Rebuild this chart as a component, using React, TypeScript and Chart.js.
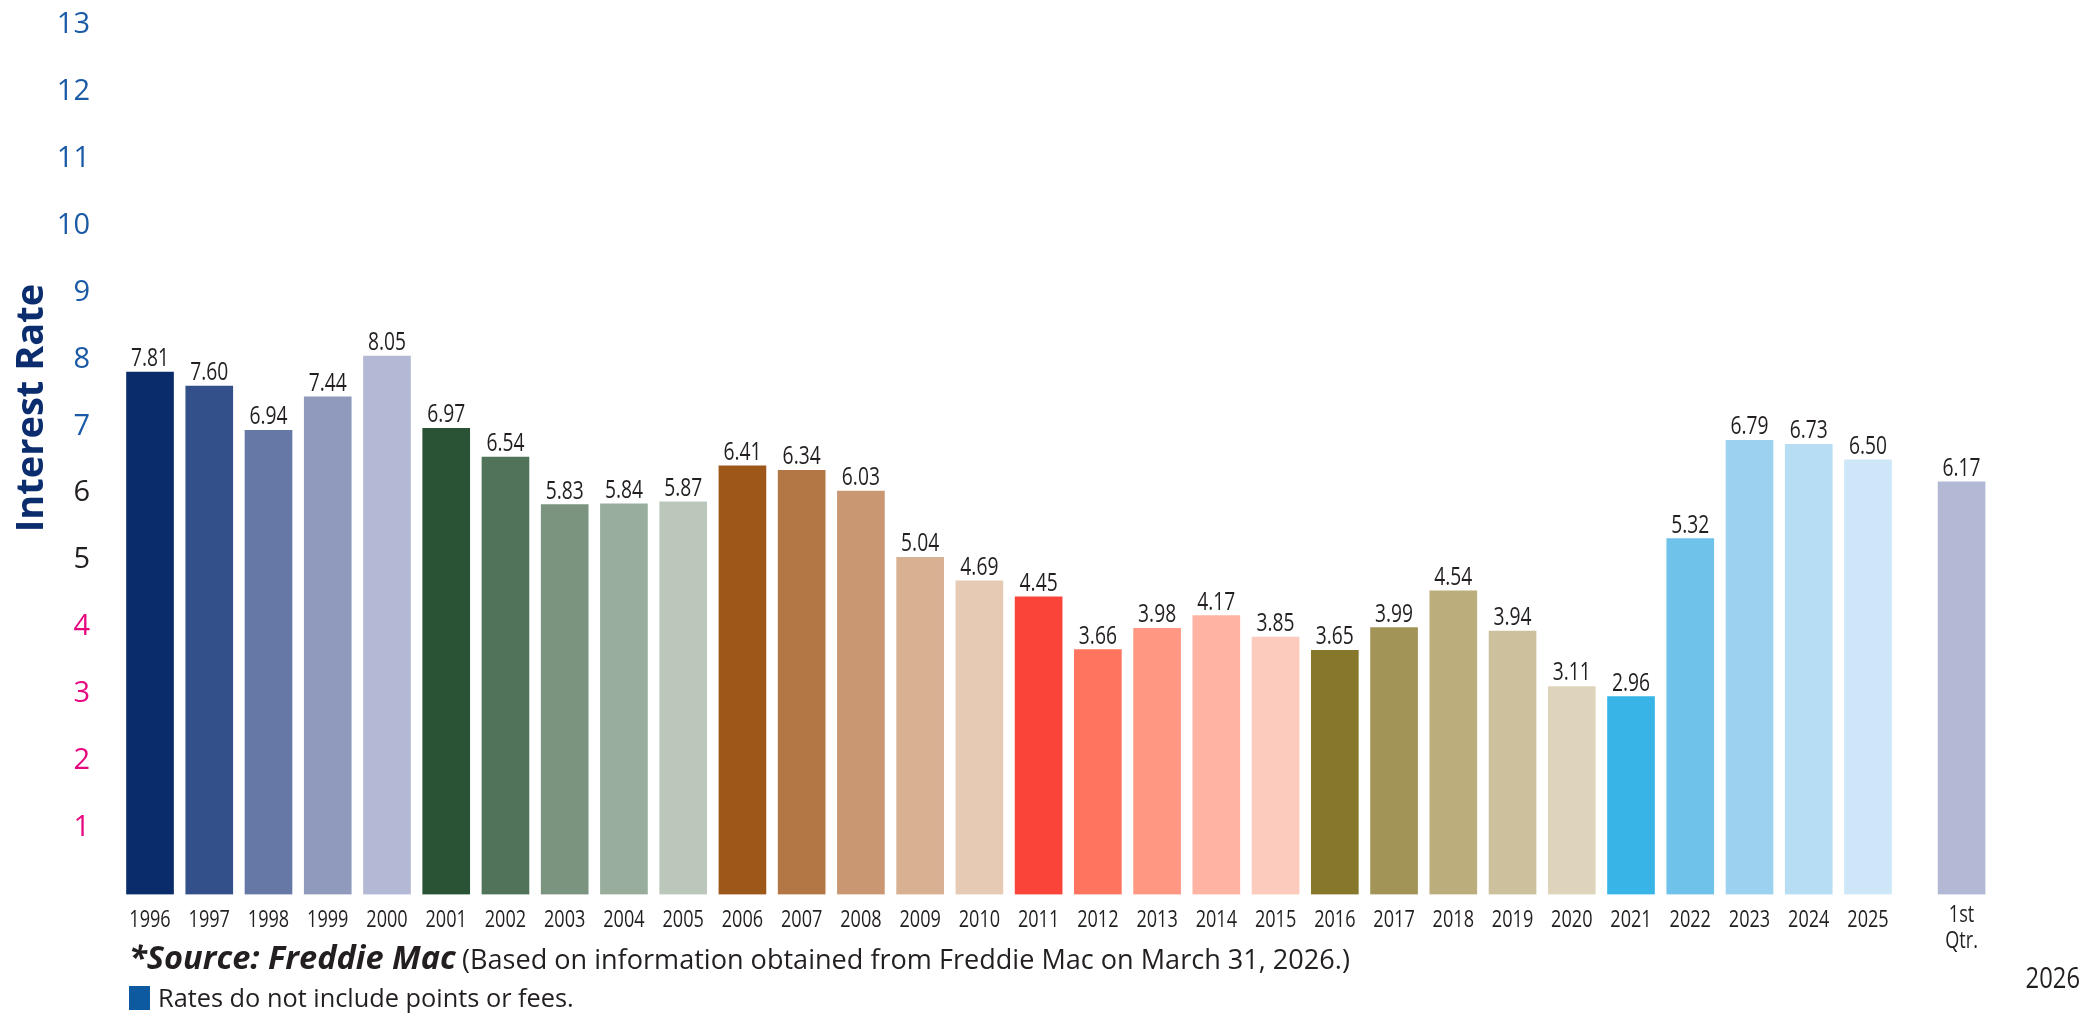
import React, { useEffect, useRef } from 'react';
import { Chart, registerables } from 'chart.js';

Chart.register(...registerables);

// ---------- data ----------
const categories = [
  '1996', '1997', '1998', '1999', '2000',
  '2001', '2002', '2003', '2004', '2005',
  '2006', '2007', '2008', '2009', '2010',
  '2011', '2012', '2013', '2014', '2015',
  '2016', '2017', '2018', '2019', '2020',
  '2021', '2022', '2023', '2024', '2025',
  '1st Qtr.',
];

const rates = [
  7.81, 7.60, 6.94, 7.44, 8.05,
  6.97, 6.54, 5.83, 5.84, 5.87,
  6.41, 6.34, 6.03, 5.04, 4.69,
  4.45, 3.66, 3.98, 4.17, 3.85,
  3.65, 3.99, 4.54, 3.94, 3.11,
  2.96, 5.32, 6.79, 6.73, 6.50,
  6.17,
];

const barColors = [
  '#0b2c6a', '#33508a', '#6679a6', '#8f9abc', '#b3b9d5',
  '#2a5234', '#50735a', '#7b947f', '#98ad9b', '#bbc7ba',
  '#9c5719', '#b27745', '#c99873', '#d8b092', '#e6cab4',
  '#fa4339', '#ff745e', '#ff9782', '#ffb3a2', '#fdcbbd',
  '#86772b', '#a29357', '#bcad7c', '#cdc09d', '#ddd4bb',
  '#38b5e6', '#6fc3ea', '#9dd1f0', '#b6ddf4', '#cde7f8',
  '#b3b8d4',
];

const yTickBlue = [7, 8, 9, 10, 11, 12, 13];
const yTickBlack = [5, 6];
const yTickPink = [1, 2, 3, 4];

const yTitle = 'Interest Rate';
const quarterYear = '2026';
const sourceBold = '*Source: Freddie Mac';
const sourceRest = '(Based on information obtained from Freddie Mac on March 31, 2026.)';
const noteText = 'Rates do not include points or fees.';

// ---------- layout / style ----------
const W = 2084;
const H = 1014;
const PITCH = 59.24;
const X_MIN = -0.5;
const X_MAX = 31.5;
const PLOT_LEFT = 120.4;
const PLOT_TOP = 25;
const PLOT_BOTTOM = 894.5;
const QUARTER_GAP = 0.58;
const FONT = "'Open Sans', 'Noto Sans', sans-serif";
const LABEL_SIZE = 23.5;
const LABEL_SX = 0.77;
const VALUE_SIZE = 25;
const VALUE_SX = 0.77;
const TEXT_COLOR = '#231f20';

const positions = categories.map((_, i) => (i < categories.length - 1 ? i : i + QUARTER_GAP));

function tickColor(v: number): string {
  if (yTickBlue.includes(v)) return '#1b5aa6';
  if (yTickBlack.includes(v)) return '#231f20';
  if (yTickPink.includes(v)) return '#e6087f';
  return '#231f20';
}

function drawCondensed(
  ctx: CanvasRenderingContext2D,
  text: string,
  x: number,
  y: number,
  font: string,
  sx: number,
  color: string,
  align: CanvasTextAlign = 'center'
) {
  ctx.save();
  ctx.translate(x, y);
  ctx.scale(sx, 1);
  ctx.font = font;
  ctx.fillStyle = color;
  ctx.textAlign = align;
  ctx.textBaseline = 'alphabetic';
  ctx.fillText(text, 0, 0);
  ctx.restore();
}

function fitSize(ctx: CanvasRenderingContext2D, text: string, style: string, target: number): number {
  const base = 24;
  ctx.font = `${style} ${base}px ${FONT}`;
  return (base * target) / ctx.measureText(text).width;
}

const textPlugin = {
  id: 'textPlugin',
  afterDatasetsDraw(chart: any) {
    const ctx: CanvasRenderingContext2D = chart.ctx;
    const meta = chart.getDatasetMeta(0);
    const labelFont = `${LABEL_SIZE}px ${FONT}`;
    const valueFont = `${VALUE_SIZE}px ${FONT}`;
    meta.data.forEach((bar: any, i: number) => {
      drawCondensed(ctx, rates[i].toFixed(2), bar.x, bar.y - 6, valueFont, VALUE_SX, TEXT_COLOR);
      const lines = categories[i].split(' ');
      if (lines.length === 1) {
        drawCondensed(ctx, lines[0], bar.x, 927, labelFont, LABEL_SX, TEXT_COLOR);
      } else {
        lines.forEach((ln, k) => {
          drawCondensed(ctx, ln, bar.x, 922 + k * 26, labelFont, LABEL_SX, TEXT_COLOR);
        });
      }
    });

    drawCondensed(ctx, quarterYear, 2080, 988, `29px ${FONT}`, 0.82, TEXT_COLOR, 'right');

    // y title
    ctx.save();
    ctx.translate(42.5, 408);
    ctx.rotate(-Math.PI / 2);
    ctx.font = `bold 38px ${FONT}`;
    ctx.fillStyle = '#0b2d6e';
    ctx.textAlign = 'center';
    ctx.textBaseline = 'alphabetic';
    ctx.fillText(yTitle, 0, 0);
    ctx.restore();

    // footnote line 1
    ctx.save();
    ctx.fillStyle = TEXT_COLOR;
    ctx.textBaseline = 'alphabetic';
    ctx.textAlign = 'left';
    const fb = fitSize(ctx, sourceBold, 'italic bold', 327);
    ctx.font = `italic bold ${fb}px ${FONT}`;
    ctx.fillText(sourceBold, 129, 969);
    const fr = fitSize(ctx, sourceRest, 'normal', 888);
    ctx.font = `${fr}px ${FONT}`;
    ctx.fillText(sourceRest, 462, 969);

    // footnote line 2
    ctx.fillStyle = '#0d5aa0';
    ctx.fillRect(129, 986, 21, 24);
    const f2 = fitSize(ctx, noteText, 'normal', 416);
    ctx.font = `${f2}px ${FONT}`;
    ctx.fillStyle = TEXT_COLOR;
    ctx.fillText(noteText, 158, 1007);
    ctx.restore();
  },
};

export default function App() {
  const canvasRef = useRef<HTMLCanvasElement | null>(null);

  useEffect(() => {
    document.body.style.margin = '0';
    document.body.style.overflow = 'hidden';
    const canvas = canvasRef.current;
    if (!canvas) return;

    const chart = new Chart(canvas, {
      type: 'bar',
      data: {
        datasets: [
          {
            data: rates.map((r, i) => ({ x: positions[i], y: r })),
            backgroundColor: barColors,
            borderWidth: 0,
            barThickness: 47,
          },
        ],
      },
      plugins: [textPlugin],
      options: {
        responsive: false,
        animation: false,
        devicePixelRatio: 1,
        layout: {
          padding: {
            left: 0,
            top: PLOT_TOP,
            bottom: H - PLOT_BOTTOM,
            right: W - (PLOT_LEFT + (X_MAX - X_MIN) * PITCH),
          },
        },
        plugins: {
          legend: { display: false },
          tooltip: { enabled: false },
          title: { display: false },
        },
        scales: {
          x: {
            type: 'linear',
            min: X_MIN,
            max: X_MAX,
            offset: false,
            display: false,
            grid: { display: false, offset: false },
          },
          y: {
            min: 0,
            max: 13,
            grid: { display: false, drawTicks: false },
            border: { display: false },
            afterFit: (scale: any) => {
              scale.width = PLOT_LEFT;
              scale.paddingTop = 0;
              scale.paddingBottom = 0;
            },
            ticks: {
              stepSize: 1,
              padding: 30.4,
              font: { family: FONT, size: 29 },
              color: (c: any) => tickColor(c.tick.value),
              callback: (v: any) => (v === 0 ? '' : String(v)),
            },
          },
        },
      } as any,
    });

    return () => chart.destroy();
  }, []);

  return (
    <canvas
      ref={canvasRef}
      width={W}
      height={H}
      style={{ display: 'block', width: W + 'px', height: H + 'px' }}
    />
  );
}
